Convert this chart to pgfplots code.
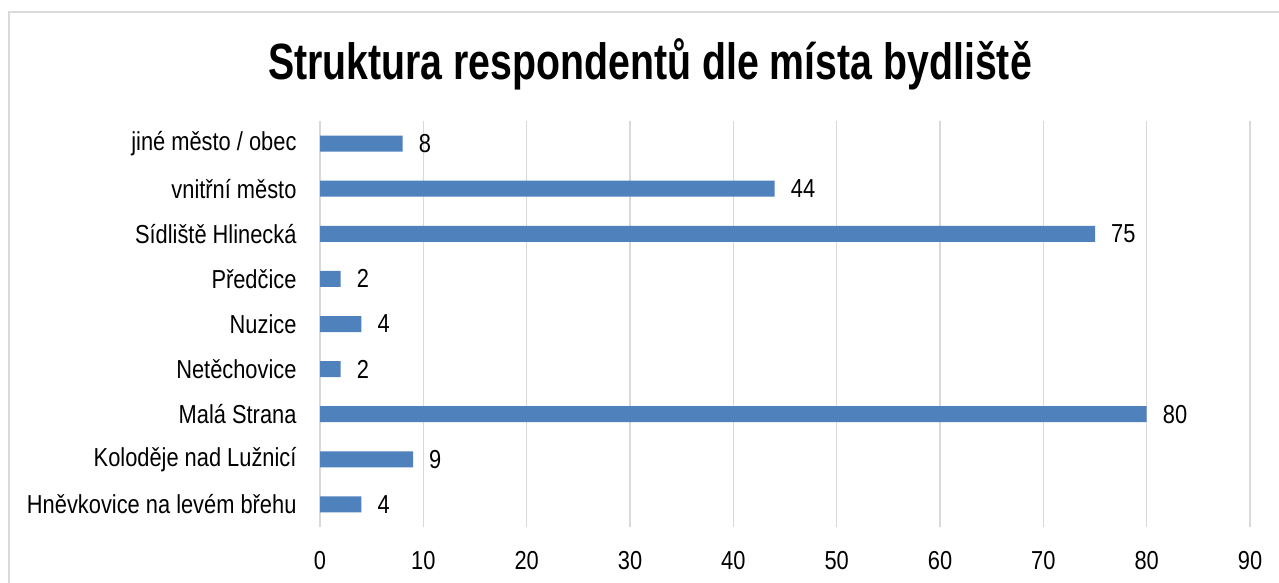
\documentclass[border=0pt]{standalone}
\usepackage{pgfplots}
\pgfplotsset{compat=1.18}
\usepackage{fontspec}
\setmainfont{Liberation Sans}
\newfontfamily\narrow[FakeStretch=0.84]{Liberation Sans}
\newfontfamily\narrowbold[FakeStretch=0.77]{Liberation Sans Bold}
\definecolor{barblue}{HTML}{4F81BD}
\definecolor{gridgray}{HTML}{D9D9D9}
\begin{document}
\begin{tikzpicture}[x=1bp,y=1bp]
\useasboundingbox (0,0) rectangle (1279,-583);
\clip (0,0) rectangle (1279,-583);
\fill[white] (0,0) rectangle (1279,-583);
\draw[gridgray, line width=1.5bp] (9,-600) -- (9,-12) -- (1300,-12);
\node[anchor=base, inner sep=0pt] at (650,-80) {\fontsize{51bp}{60bp}\selectfont\narrowbold Struktura respondentů dle místa bydliště};
\begin{axis}[
  at={(320bp,-527bp)}, anchor=south west,
  scale only axis, width=930bp, height=406bp,
  xbar, bar width=16bp,
  xmin=0, xmax=90, ymin=-0.5, ymax=8.5,
  xtick={0,10,...,90},
  ytick={0,...,8},
  yticklabels={Hněvkovice na levém břehu, Koloděje nad Lužnicí, Malá Strana, Netěchovice, Nuzice, Předčice, Sídliště Hlinecká, vnitřní město, jiné město / obec},
  axis line style={draw=none},
  major tick length=0pt,
  xmajorgrids, grid style={gridgray, line width=1.5bp},
  /pgf/number format/assume math mode=true,
  tick label style={font=\fontsize{26bp}{30bp}\selectfont\narrow},
  xticklabel style={yshift=-21bp},
  yticklabel style={xshift=-20bp},
  nodes near coords,
  nodes near coords style={font=\fontsize{26bp}{30bp}\selectfont\narrow, anchor=west, inner sep=0pt, xshift=16bp, text=black},
]
\addplot[fill=barblue, draw=none] coordinates {
(4,0) (9,1) (80,2) (2,3) (4,4) (2,5) (75,6) (44,7) (8,8)
};
\end{axis}
\end{tikzpicture}
\end{document}
